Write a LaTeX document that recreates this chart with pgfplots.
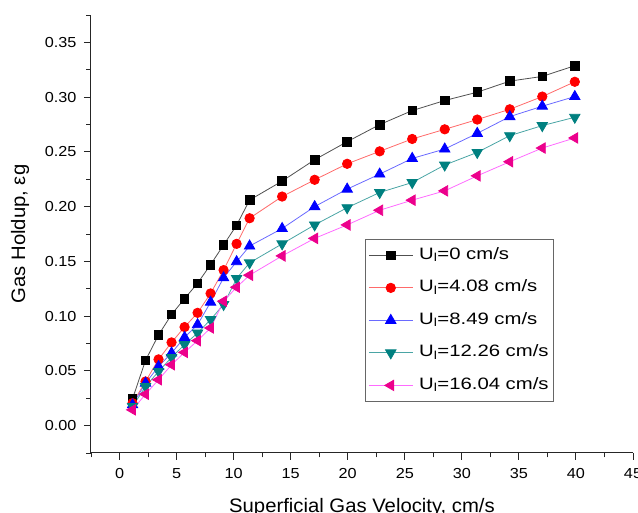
\documentclass[border=0pt]{standalone}
\usepackage{fontspec}
\setmainfont{Liberation Sans}
\newfontfamily\tickfont{Liberation Sans}[FakeStretch=1.12]
\newfontfamily\legfont{Liberation Sans}[FakeStretch=1.23]
\newfontfamily\labfont{Liberation Sans}[FakeStretch=1.04]
\usepackage{pgfplots}
\usepackage{pgfplotstable}
\pgfplotsset{compat=1.18}
\definecolor{lineblack}{HTML}{505050}
\definecolor{linered}{HTML}{FF6A6A}
\definecolor{lineblue}{HTML}{6A6AFF}
\definecolor{teal2}{HTML}{008080}
\definecolor{lineteal}{HTML}{4AA5A5}
\definecolor{linemag}{HTML}{FF6AFF}
\pgfplotstableread{
x      a       b       c       d       e
1.14   0.0245  0.0205  0.0190  0.0175  0.0144
2.28   0.0596  0.0403  0.0388  0.0357  0.0287
3.42   0.0828  0.0605  0.0540  0.0495  0.0419
4.56   0.1015  0.0760  0.0663  0.0623  0.0556
5.70   0.1160  0.0900  0.0806  0.0740  0.0669
6.84   0.1300  0.1030  0.0922  0.0846  0.0776
7.98   0.1470  0.1207  0.1127  0.0968  0.0892
9.12   0.1650  0.1420  0.1350  0.1106  0.1136
10.26  0.1830  0.1660  0.1497  0.1344  0.1264
11.40  0.2060  0.1894  0.1640  0.1487  0.1374
14.25  0.2233  0.2092  0.1800  0.1660  0.1550
17.10  0.2428  0.2245  0.2000  0.1833  0.1710
19.95  0.2593  0.2391  0.2160  0.1990  0.1833
22.80  0.2749  0.2505  0.2297  0.2129  0.1967
25.65  0.2877  0.2618  0.2440  0.2220  0.2059
28.50  0.2969  0.2706  0.2526  0.2380  0.2144
31.35  0.3045  0.2795  0.2669  0.2495  0.2281
34.20  0.3146  0.2889  0.2822  0.2648  0.2410
37.05  0.3189  0.3005  0.2917  0.2740  0.2535
39.90  0.3287  0.3140  0.3005  0.2816  0.2627
}\datatable
\begin{document}
\begin{tikzpicture}
\begin{axis}[
  width=542pt, height=438pt, scale only axis,
  xmin=-2.5, xmax=45, ymin=-0.025, ymax=0.375,
  axis x line*=bottom, axis y line*=left,
  axis line style={line width=1pt, black!85},
  xtick={0,5,...,45}, ytick={0,0.05,0.1,0.15,0.2,0.25,0.3,0.35},
  minor xtick={-2.5,2.5,7.5,12.5,17.5,22.5,27.5,32.5,37.5,42.5},
  minor ytick={-0.025,0.025,0.075,0.125,0.175,0.225,0.275,0.325,0.375},
  tick align=outside,
  major tick length=7pt, minor tick length=4.5pt,
  tick style={line width=0.9pt, black!85},
  /pgf/number format/assume math mode=true,
  yticklabel style={/pgf/number format/fixed, /pgf/number format/fixed zerofill, /pgf/number format/precision=2, xshift=-4pt},
  xticklabel style={yshift=-5pt},
  tick label style={font=\tickfont\fontsize{14.5}{17}\selectfont},
  xlabel={Superficial Gas Velocity, cm/s},
  ylabel={Gas Holdup, εg},
  label style={font=\labfont\fontsize{19.5}{22}\selectfont},
  xlabel style={at={(axis description cs:0.5,-0.137)}, anchor=base},
  ylabel style={at={(axis description cs:-0.131,0.5)}, anchor=center},
  legend style={at={(0.5055,0.4886)}, anchor=north west, draw=black!60, line width=0.8pt,
    font=\legfont\fontsize{16.5}{19}\selectfont, row sep=12.5pt, column sep=4pt, inner xsep=3pt, inner ysep=6pt,
    nodes={text height=12pt, text depth=4pt, inner ysep=2pt}},
  legend cell align=left,
  legend image code/.code={\draw[mark repeat=2,mark phase=2] plot coordinates {(0pt,0pt)(22pt,0pt)(44pt,0pt)};},
]
\coordinate (LL) at (rel axis cs:0,0);
\addplot[color=lineblack, line width=0.8pt, mark=square*, mark size=4.3pt, mark options={fill=black, draw=black}] table[x=x,y=a] {\datatable};
\addlegendentry{U\textsubscript{l}=0 cm/s}
\addplot[color=linered, line width=0.8pt, mark=*, mark size=4.7pt, mark options={fill=red, draw=red}] table[x=x,y=b] {\datatable};
\addlegendentry{U\textsubscript{l}=4.08 cm/s}
\addplot[color=lineblue, line width=0.8pt, mark=triangle*, mark size=6pt, mark options={fill=blue, draw=blue}] table[x=x,y=c] {\datatable};
\addlegendentry{U\textsubscript{l}=8.49 cm/s}
\addplot[color=lineteal, line width=0.8pt, mark=triangle*, mark size=6pt, mark options={fill=teal2, draw=teal2, rotate=180}] table[x=x,y=d] {\datatable};
\addlegendentry{U\textsubscript{l}=12.26 cm/s}
\addplot[color=linemag, line width=0.8pt, mark=triangle*, mark size=6pt, mark options={fill=magenta, draw=magenta, rotate=90}] table[x=x,y=e] {\datatable};
\addlegendentry{U\textsubscript{l}=16.04 cm/s}
\end{axis}
\pgfresetboundingbox
\useasboundingbox ([shift={(-91pt,-60pt)}]LL) rectangle ([shift={(547pt,453pt)}]LL);
\end{tikzpicture}
\end{document}
